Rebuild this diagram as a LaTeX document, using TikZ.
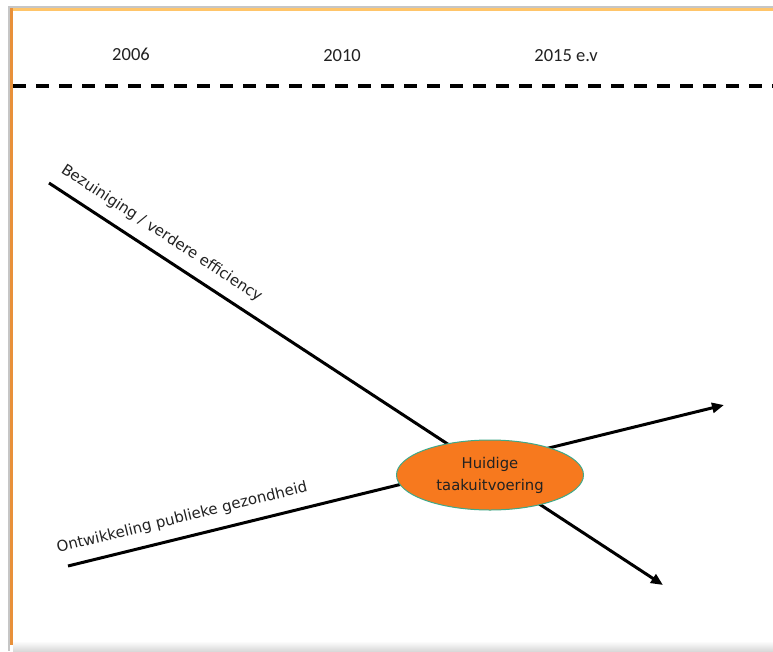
\documentclass[tikz,border=0pt]{standalone}
\usepackage{fontspec}
\setmainfont{DejaVu Sans}
\newfontfamily\yearfont{Carlito}
\usetikzlibrary{arrows.meta,shapes.geometric}
\definecolor{ovalfill}{HTML}{F7791E}
\definecolor{ovalline}{HTML}{3FA98A}
\definecolor{frameor}{HTML}{E8903A}
\definecolor{frametop}{HTML}{FFC56A}
\definecolor{txt}{HTML}{222222}
\begin{document}
\begin{tikzpicture}[x=1pt,y=-1pt,
  year/.style={font=\yearfont\fontsize{18.5}{20}\selectfont, text=txt, inner sep=0pt},
  linelabel/.style={font=\fontsize{15}{18}\selectfont, text=txt, sloped, above=12pt, inner sep=0pt},
  trend/.style={line width=3pt, black},
  trendarrow/.style={trend, -{Triangle[length=12pt,width=10pt]}},
  divider/.style={line width=4pt, black, dash pattern=on 13pt off 10pt},
  oval/.style={ellipse, draw=ovalline, line width=1pt, fill=ovalfill, minimum width=187pt, minimum height=70pt, inner sep=0pt, align=center, text=txt, font=\fontsize{14.8}{22}\selectfont}]
\useasboundingbox (0,0) rectangle (773,651);
\fill[white] (0,0) rectangle (773,651);
% frame
\fill[gray!45] (8,6) rectangle (773,8);
\fill[frametop] (10,8) rectangle (773,11);
\fill[gray!45] (8,6) rectangle (10,651);
\fill[frameor] (10,8) rectangle (13,645);
\shade[top color=white, bottom color=gray!30] (13,641) rectangle (773,651);
% years
\node[year] (y1) at (131,54) {2006};
\node[year] (y2) at (342,56) {2010};
\node[year] (y3) at (566,56) {2015 e.v};
% divider
\coordinate (d1) at (13,86);
\coordinate (d2) at (773,86);
\draw[divider] (d1) -- (d2);
% trend lines
\coordinate (a1) at (49,183);
\coordinate (a2) at (663,585);
\coordinate (b1) at (68,566);
\coordinate (b2) at (724,405);
\draw[trendarrow] (a1) -- (a2);
\draw[trendarrow] (b1) -- (b2);
\path (a1) -- (a2) node[linelabel, pos=0.166] (la) {Bezuiniging / verdere efficiency};
\path (b1) -- (b2) node[linelabel, pos=0.181] (lb) {Ontwikkeling publieke gezondheid};
% oval
\node[oval] (E) at (490,475) {Huidige\\taakuitvoering};
\end{tikzpicture}
\end{document}
